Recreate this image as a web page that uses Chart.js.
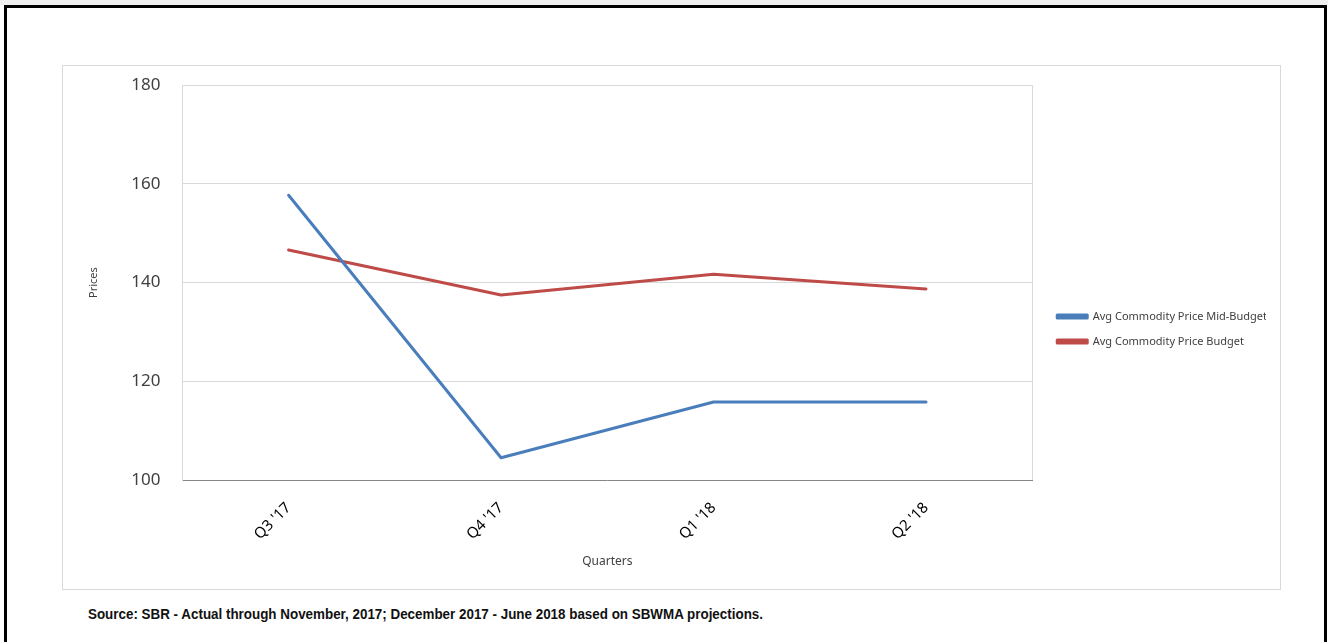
<!DOCTYPE html>
<html>
<head>
<meta charset="utf-8">
<script src="https://cdn.jsdelivr.net/npm/chart.js@4/dist/chart.umd.min.js"></script>
<style>
    html, body { margin: 0; padding: 0; background: #ffffff; }
    body { width: 1328px; height: 642px; position: relative; overflow: hidden; }
    #strip { position: absolute; left: 0; top: 0; width: 1328px; height: 5px; background: #f0f0f0; }
    #page { position: absolute; left: 4px; top: 5px; width: 1317px; height: 660px; border: 3px solid #000; border-bottom: none; background: #fff; }
    #frame { position: absolute; left: 62px; top: 65px; width: 1217px; height: 523px; border: 1px solid #d9d9d9; }
    #chart { position: absolute; left: 63px; top: 53px; }
    #source { position: absolute; left: 88px; top: 606px; font-family: 'Liberation Sans', Arial, sans-serif; font-weight: bold; font-size: 14px; color: #111; white-space: nowrap; transform-origin: 0 0; }
</style>
</head>
<body>
<div id="strip"></div>
<div id="page"></div>
<div id="frame"></div>
<canvas id="chart" width="1217" height="536"></canvas>
<div id="source">Source: SBR - Actual through November, 2017; December 2017 - June 2018 based on SBWMA projections.</div>

<script>
'use strict';

let quarters = ['Q3 \'17', 'Q4 \'17', 'Q1 \'18', 'Q2 \'18'];
let midBudget = [157.7, 104.5, 115.8, 115.8];
let budget = [146.6, 137.5, 141.7, 138.7];
let yTicks = [100, 120, 140, 160, 180];

// squeeze the footnote to a narrow face, like the original
let sourceEl = document.getElementById('source');
let sourceWidth = sourceEl.getBoundingClientRect().width;
sourceEl.style.transform = 'scaleX(' + (675 / sourceWidth) + ')';

const canvasEl = document.getElementById('chart');

// plot area border on the right side (the other sides come from the scales)
const plotBorder = {
    id: 'plotBorder',
    afterLayout(chart) {
        // leave a wider gap between plot and legend
        chart.legend.left += 11;
        chart.legend.top += 2;
        chart.legend.bottom += 2;
    },
    beforeDatasetsDraw(chart) {
        const a = chart.chartArea;
        const ctx = chart.ctx;
        ctx.save();
        ctx.strokeStyle = '#d9d9d9';
        ctx.lineWidth = 1;
        ctx.beginPath();
        ctx.moveTo(Math.round(a.right) + 0.5, a.top);
        ctx.lineTo(Math.round(a.right) + 0.5, a.bottom);
        ctx.stroke();
        ctx.restore();
    }
};

new Chart(canvasEl, {
    type: 'line',
    data: {
        labels: quarters,
        datasets: [{
            label: 'Avg Commodity Price Mid-Budget',
            data: midBudget,
            borderColor: '#4a7ebb',
            backgroundColor: '#4a7ebb',
            borderWidth: 3,
            pointRadius: 0,
            tension: 0,
            borderJoinStyle: 'round',
            borderCapStyle: 'round'
        }, {
            label: 'Avg Commodity Price Budget',
            data: budget,
            borderColor: '#be4b48',
            backgroundColor: '#be4b48',
            borderWidth: 3,
            pointRadius: 0,
            tension: 0,
            borderJoinStyle: 'round',
            borderCapStyle: 'round'
        }]
    },
    options: {
        responsive: false,
        animation: false,
        layout: {
            padding: { left: 20, right: 14, top: 32, bottom: 20 }
        },
        plugins: {
            legend: {
                position: 'right',
                labels: {
                    boxWidth: 30,
                    boxHeight: 3,
                    padding: 14,
                    color: '#404040',
                    font: { family: 'Noto Sans', size: 11 }
                }
            },
            tooltip: { enabled: false }
        },
        scales: {
            x: {
                offset: true,
                afterFit(scale) {
                    scale.height = 89;
                },
                grid: { display: false, drawTicks: false },
                border: { color: '#868686', width: 1 },
                ticks: {
                    maxRotation: 45,
                    minRotation: 45,
                    padding: 19,
                    color: '#000',
                    font: { family: 'Noto Sans', size: 15 }
                },
                title: {
                    display: true,
                    text: 'Quarters',
                    color: '#404040',
                    font: { family: 'Noto Sans', size: 12 },
                    padding: { top: 0, bottom: 0 }
                }
            },
            y: {
                min: 100,
                max: 180,
                afterBuildTicks(scale) {
                    scale.ticks = yTicks.map(v => ({ value: v }));
                },
                grid: { color: '#d9d9d9', drawTicks: false },
                border: { color: '#d9d9d9' },
                ticks: {
                    padding: 22,
                    color: '#404040',
                    font: { family: 'Noto Sans', size: 17 }
                },
                title: {
                    display: true,
                    text: 'Prices',
                    color: '#404040',
                    font: { family: 'Noto Sans', size: 11 },
                    padding: { top: 4, bottom: 9 }
                }
            }
        }
    },
    plugins: [plotBorder]
});
</script>
</body>
</html>
